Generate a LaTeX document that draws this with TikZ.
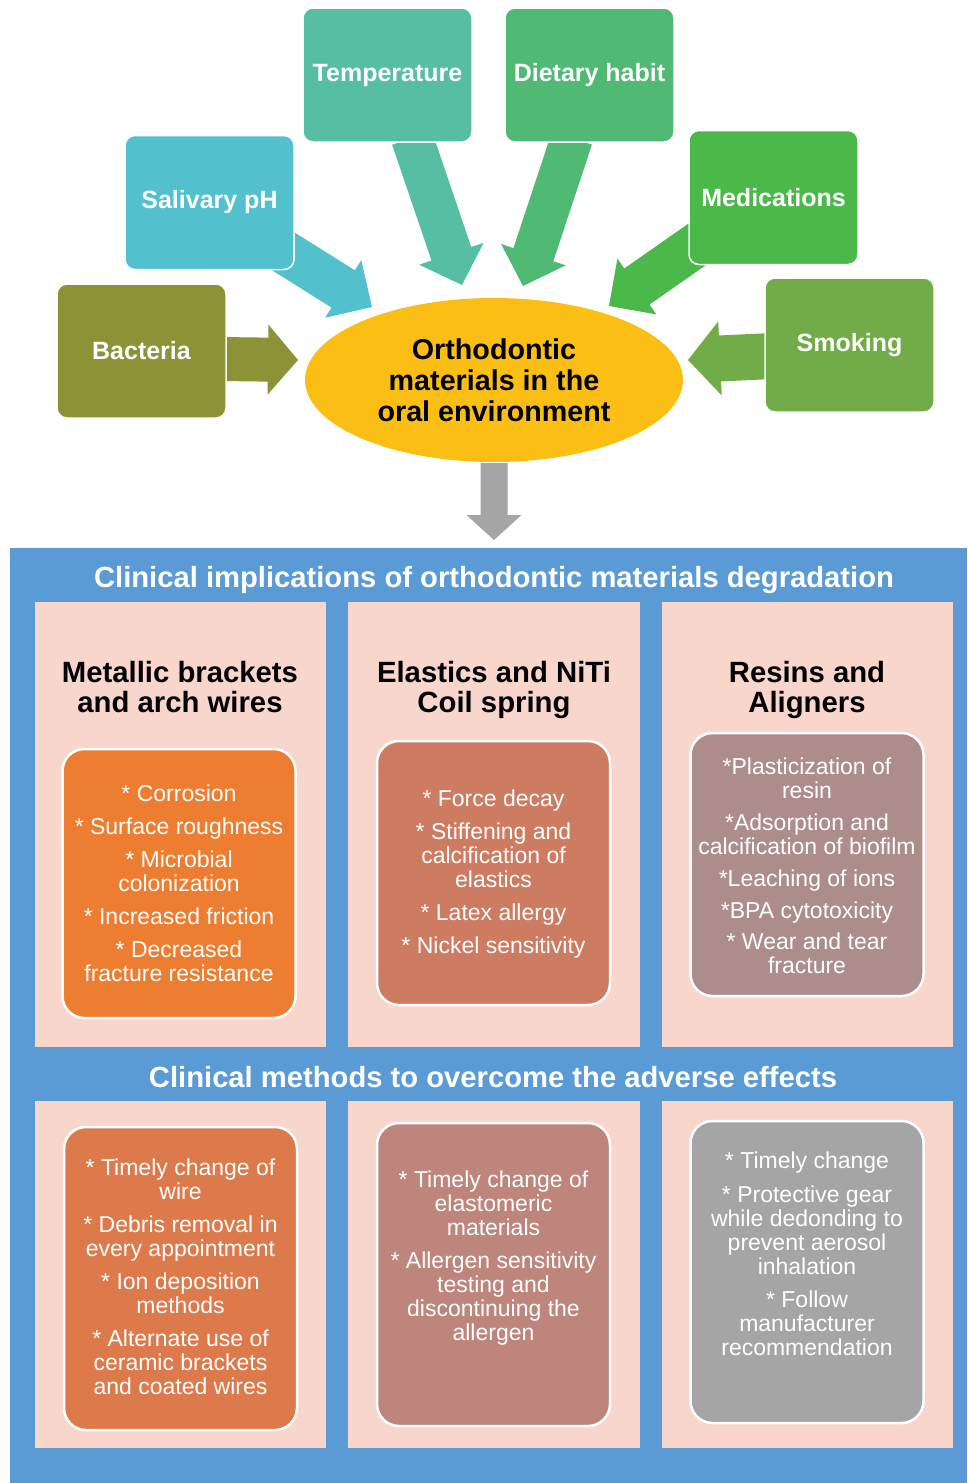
\documentclass[tikz,border=0pt]{standalone}
\usepackage{fontspec}
\setmainfont{Liberation Sans}
\usetikzlibrary{calc,shapes.geometric}
\pgfdeclarelayer{bg}
\pgfsetlayers{bg,main}
\definecolor{cBact}{RGB}{141,146,54}
\definecolor{cSal}{RGB}{82,193,205}
\definecolor{cTemp}{RGB}{86,191,163}
\definecolor{cDiet}{RGB}{80,186,116}
\definecolor{cMed}{RGB}{75,184,74}
\definecolor{cSmok}{RGB}{113,172,72}
\definecolor{cEll}{RGB}{250,190,20}
\definecolor{cGray}{RGB}{165,165,165}
\definecolor{cBlue}{RGB}{91,155,213}
\definecolor{cPink}{RGB}{248,214,203}
\definecolor{cOrA}{RGB}{237,125,49}
\definecolor{cTerA}{RGB}{205,123,97}
\definecolor{cMauA}{RGB}{173,140,140}
\definecolor{cOrB}{RGB}{221,122,76}
\definecolor{cRoseB}{RGB}{189,133,124}
\definecolor{cGrayB}{RGB}{165,165,165}
% block arrow: color, tail, tip, shaft half width, head half width, head length
\newcommand\blkarrow[6]{%
  \coordinate (hb) at ($(#3)!#6!(#2)$);
  \fill[#1] ($(#2)!#4!90:(#3)$) -- ($(hb)!#4!90:(#3)$) -- ($(hb)!#5!90:(#3)$)
    -- (#3) -- ($(hb)!#5!-90:(#3)$) -- ($(hb)!#4!-90:(#3)$) -- ($(#2)!#4!-90:(#3)$) -- cycle;
}
\tikzset{
  topbox/.style={rounded corners=10pt, draw=white, line width=1.5pt, text=white,
    font=\fontsize{25}{28}\selectfont\bfseries, minimum width=169pt, minimum height=134pt, inner sep=0pt},
  inbox/.style={rounded corners=22pt, draw=white, line width=2.5pt, minimum width=233pt, inner sep=0pt},
  txt/.style={text=white, align=center, font=\fontsize{23}{24}\selectfont, inner sep=0pt},
  colhead/.style={align=center, font=\fontsize{29.3}{30}\selectfont\bfseries, inner sep=0pt},
  sectitle/.style={text=white, font=\fontsize{29.2}{30}\selectfont\bfseries, inner sep=0pt},
  panel/.style={fill=cPink, draw=none}
}
\begin{document}
\begin{tikzpicture}[x=1pt,y=-1pt]
\useasboundingbox (0,0) rectangle (967,1483);

% ---- top factor boxes ----
\node[topbox, fill=cTemp] (temp) at (387.5,75) {Temperature};
\node[topbox, fill=cDiet] (diet) at (589.5,75) {Dietary habit};
\node[topbox, fill=cSal] (sal) at (209.5,202.5) {Salivary pH};
\node[topbox, fill=cMed] (med) at (773.5,197.5) {Medications};
\node[topbox, fill=cBact] (bact) at (141.5,351) {Bacteria};
\node[topbox, fill=cSmok] (smok) at (849.5,345) {Smoking};

% ---- central ellipse ----
\node[ellipse, fill=cEll, minimum width=378pt, minimum height=164pt, inner sep=0pt,
  align=center, font=\fontsize{28.7}{31}\selectfont\bfseries] (core) at (494,380)
  {Orthodontic\\materials in the\\oral environment};

% arrow end points
\coordinate (tBact) at (220,359);  \coordinate (pBact) at (298,360);
\coordinate (tSmok) at (772,356);  \coordinate (pSmok) at (688,360);
\coordinate (tSal) at (262,238);   \coordinate (pSal) at (372,307);
\coordinate (tTemp) at (412,138);  \coordinate (pTemp) at (462,285);
\coordinate (tDiet) at (572,138);  \coordinate (pDiet) at (523,286);
\coordinate (tMed) at (702,241);   \coordinate (pMed) at (609,306);
\coordinate (tDown) at (494,463);  \coordinate (pDown) at (494,540);

\begin{pgfonlayer}{bg}
\fill[white] (0,0) rectangle (967,1483);
\blkarrow{cBact}{tBact}{pBact}{22pt}{35pt}{30pt}
\blkarrow{cSmok}{tSmok}{pSmok}{23pt}{37pt}{32pt}
\blkarrow{cSal}{tSal}{pSal}{22pt}{34pt}{34pt}
\blkarrow{cTemp}{tTemp}{pTemp}{21pt}{34pt}{33pt}
\blkarrow{cDiet}{tDiet}{pDiet}{21pt}{34pt}{33pt}
\blkarrow{cMed}{tMed}{pMed}{22pt}{34pt}{34pt}
\blkarrow{cGray}{tDown}{pDown}{13.5pt}{27.5pt}{25pt}
\end{pgfonlayer}

% ---- blue panel ----
\fill[cBlue] (10,548) rectangle (967,1483);
\node[sectitle] (title1) at (494,580) {Clinical implications of orthodontic materials degradation};
\node[sectitle] (title2) at (493,1077) {Clinical methods to overcome the adverse effects};

% pink panels
\fill[panel] (35,602) rectangle (326,1047);
\fill[panel] (348,602) rectangle (640,1047);
\fill[panel] (662,602) rectangle (953,1047);
\fill[panel] (35,1101) rectangle (326,1448);
\fill[panel] (348,1101) rectangle (640,1448);
\fill[panel] (662,1101) rectangle (953,1448);

% column headings
\node[colhead] (h1) at (180,687) {Metallic brackets\\and arch wires};
\node[colhead] (h2) at (494,690) {Elastics and NiTi\\Coil spring};
\node[colhead] (h3) at (807,690) {Resins and\\Aligners};

% upper inner boxes
\node[inbox, fill=cOrA, minimum height=269pt] (u1) at (179,883.5) {};
\node[inbox, fill=cTerA, minimum height=264pt] (u2) at (493.5,873) {};
\node[inbox, fill=cMauA, minimum height=263pt] (u3) at (807,864.5) {};

\node[txt] (u1t) at (179,883) {* Corrosion\\[9pt]* Surface roughness\\[9pt]* Microbial\\colonization\\[9pt]* Increased friction\\[9pt]* Decreased\\fracture resistance};
\node[txt] (u2t) at (493.5,874.5) {* Force decay\\[9pt]* Stiffening and\\calcification of\\elastics\\[9pt]* Latex allergy\\[9pt]* Nickel sensitivity};
\node[txt] (u3t) at (807,865.5) {*Plasticization of\\resin\\[8pt]*Adsorption and\\calcification of biofilm\\[8pt]*Leaching of ions\\[8pt]*BPA cytotoxicity\\[7pt]* Wear and tear\\fracture};

% lower inner boxes
\node[inbox, fill=cOrB, minimum height=303pt] (l1) at (180.5,1278.5) {};
\node[inbox, fill=cRoseB, minimum height=303pt] (l2) at (493.5,1274.5) {};
\node[inbox, fill=cGrayB, minimum height=302pt] (l3) at (807,1272) {};

\node[txt] (l1t) at (180.5,1277) {* Timely change of\\wire\\[9pt]* Debris removal in\\every appointment\\[9pt]* Ion deposition\\methods\\[9pt]* Alternate use of\\ceramic brackets\\and coated wires};
\node[txt] (l2t) at (493.5,1258) {* Timely change of\\elastomeric\\materials\\[9pt]* Allergen sensitivity\\testing and\\discontinuing the\\allergen};
\node[txt] (l3t) at (807,1254) {* Timely change\\[10pt]* Protective gear\\while dedonding to\\prevent aerosol\\inhalation\\[9pt]* Follow\\manufacturer\\recommendation};
\end{tikzpicture}
\end{document}
